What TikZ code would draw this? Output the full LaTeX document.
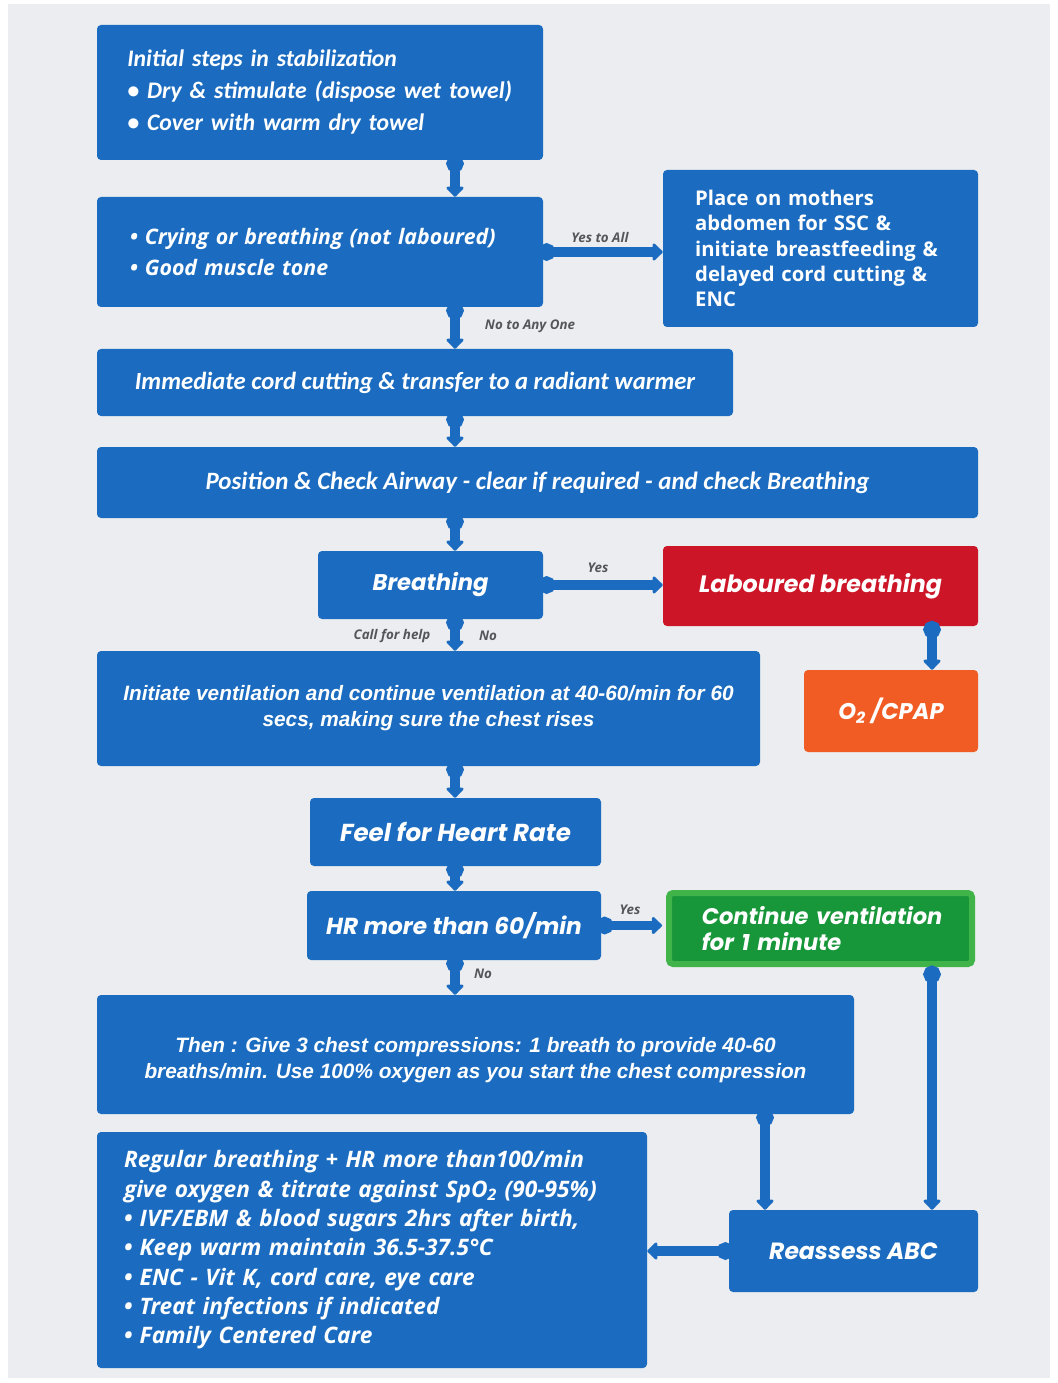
\documentclass[tikz,border=0pt]{standalone}
\usepackage{fontspec}
\setmainfont{Carlito}
\newfontfamily\pp{Poppins}
\newfontfamily\osans{Open Sans}
\newfontfamily\lib{Liberation Sans}
\usetikzlibrary{arrows.meta}
\definecolor{nb}{RGB}{27,108,192}
\definecolor{nred}{RGB}{204,22,40}
\definecolor{norange}{RGB}{241,92,36}
\definecolor{gout}{RGB}{64,180,72}
\definecolor{gin}{RGB}{24,150,58}
\definecolor{bgc}{RGB}{236,237,240}
\definecolor{lblc}{RGB}{85,85,90}
\begin{document}
\begin{tikzpicture}[x=0.75pt,y=-0.75pt,
  bx/.style n args={4}{minimum width={(#3-#1)*0.75pt}, minimum height={(#4-#2)*0.75pt}},
  box/.style={fill=nb, rounded corners=3pt, text=white, inner sep=0pt, font=\bfseries\itshape},
  head/.style={box, font=\pp\bfseries\itshape\fontsize{17}{20}\selectfont},
  conn/.style={draw=nb, line width=7pt, shorten <=-4pt, {Circle[length=13pt]}-{Triangle[length=8pt,width=15pt,round]}},
  lbl/.style={text=lblc, inner sep=1pt, font=\osans\bfseries\itshape\fontsize{10}{11}\selectfont}]
\useasboundingbox (0,0) rectangle (1057,1383);
\fill[white] (0,0) rectangle (1057,1383);
\fill[bgc] (8,4) rectangle (1050,1378);
\coordinate (cx) at (455,0);
\coordinate (cr) at (932,0);
\coordinate (ct) at (765,0);
% boxes
\node[box, bx={97}{25}{543}{160}, align=left, text width=289pt,
  font=\bfseries\itshape\fontsize{17.8}{24}\selectfont] (b1) at (320,92.5)
  {Initial steps in stabilization\\ • Dry \& stimulate (dispose wet towel)\\ • Cover with warm dry towel};
\node[box, bx={97}{197}{543}{307}, align=left, text width=285pt,
  font=\osans\bfseries\itshape\fontsize{16}{23}\selectfont] (b2) at (320,252)
  {• Crying or breathing (not laboured)\\ • Good muscle tone};
\node[box, bx={663}{170}{978}{327}, align=left, text width=188pt,
  font=\osans\bfseries\fontsize{15.2}{19}\selectfont] (b3) at (820.5,248.5)
  {Place on mothers\\ abdomen for SSC \&\\ initiate breastfeeding\hbox{ \&}\\ delayed cord cutting \&\\ ENC};
\node[box, bx={97}{349}{733}{416}, font=\bfseries\itshape\fontsize{18.5}{20}\selectfont] (b4) at (415,382.5)
  {Immediate cord cutting \& transfer to a radiant warmer};
\node[box, bx={97}{447}{978}{518}, font=\bfseries\itshape\fontsize{18.7}{20}\selectfont] (b5) at (537.5,482.5)
  {Position \& Check Airway - clear if required - and check Breathing};
\node[head, bx={318}{551}{543}{619}] (b6) at (430.5,585) {Breathing};
\node[head, fill=nred, font=\pp\bfseries\itshape\fontsize{17.8}{20}\selectfont, bx={663}{546}{978}{626}] (b7) at (820.5,586) {Laboured breathing};
\node[head, fill=norange, bx={804}{670}{978}{752}] (b8) at (891,711) {O\textsubscript{2} /CPAP};
\node[box, bx={97}{651}{760}{766}, align=center,
  font=\lib\bfseries\itshape\fontsize{15.6}{19.5}\selectfont] (b9) at (428.5,708.5)
  {Initiate ventilation and continue ventilation at 40-60/min for 60\\ secs, making sure the chest rises};
\node[head, font=\pp\bfseries\itshape\fontsize{18.4}{20}\selectfont, bx={310}{798}{601}{866}] (b10) at (455.5,832) {Feel for Heart Rate};
\node[head, font=\pp\bfseries\itshape\fontsize{17.4}{20}\selectfont, bx={307}{891}{601}{960}] (b11) at (454,925.5) {HR more than 60/min};
\node[head, fill=gin, draw=gout, line width=4.5pt, bx={669}{893}{972}{964}, align=left, text width=178pt,
  font=\pp\bfseries\itshape\fontsize{16.9}{19.5}\selectfont] (b12) at (820.5,928.5)
  {\hbox{Continue ventilation}\\ for 1 minute};
\node[box, bx={97}{995}{854}{1114}, align=center,
  font=\lib\bfseries\itshape\fontsize{15.6}{19.5}\selectfont] (b13) at (475.5,1054.5)
  {\rule{0pt}{19.7pt}Then : Give 3 chest compressions: 1 breath to provide 40-60\\ breaths/min. Use 100\% oxygen as you start the chest compression};
\node[head, font=\pp\bfseries\itshape\fontsize{17.6}{20}\selectfont, bx={729}{1210}{978}{1292}] (b14) at (853.5,1251) {Reassess ABC};
\node[box, bx={97}{1132}{647}{1368}, align=left, text width=372pt,
  font=\osans\bfseries\itshape\fontsize{17}{22}\selectfont] (b15) at (372,1250)
  {Regular breathing + HR more than100/min\\
   give oxygen \& titrate against SpO\textsubscript{2} (90-95\%)\\
   • IVF/EBM \& blood sugars 2hrs after birth,\\
   • Keep warm maintain 36.5-37.5°C\\
   • ENC - Vit K, cord care, eye care\\
   • Treat infections if indicated\\
   • Family Centered Care};
% connectors
\draw[conn] (b1.south -| cx) -- (b2.north -| cx);
\draw[conn] (b2.east) -- (b3.west |- b2.east);
\draw[conn] (b2.south -| cx) -- (b4.north -| cx);
\draw[conn] (b4.south -| cx) -- (b5.north -| cx);
\draw[conn] (b5.south -| cx) -- (b6.north -| cx);
\draw[conn] (b6.east) -- (b7.west |- b6.east);
\draw[conn] (b7.south -| cr) -- (b8.north -| cr);
\draw[conn] (b6.south -| cx) -- (b9.north -| cx);
\draw[conn] (b9.south -| cx) -- (b10.north -| cx);
\draw[conn] (b10.south -| cx) -- (b11.north -| cx);
\draw[conn] (b11.east) -- ([xshift=-3pt]b12.west |- b11.east);
\draw[conn] (b11.south -| cx) -- (b13.north -| cx);
\draw[conn] (b13.south -| ct) -- (b14.north -| ct);
\draw[conn] ([yshift=-3pt]b12.south -| cr) -- (b14.north -| cr);
\draw[conn] (b14.west) -- (b15.east |- b14.west);
% labels
\node[lbl] (l1) at (600,238) {Yes to All};
\node[lbl] (l2) at (530,326) {No to Any One};
\node[lbl] (l3) at (598,568) {Yes};
\node[lbl] (l4) at (392,636) {Call for help};
\node[lbl] (l5) at (488,636) {No};
\node[lbl] (l6) at (630,910) {Yes};
\node[lbl] (l7) at (483,974) {No};
\end{tikzpicture}
\end{document}
